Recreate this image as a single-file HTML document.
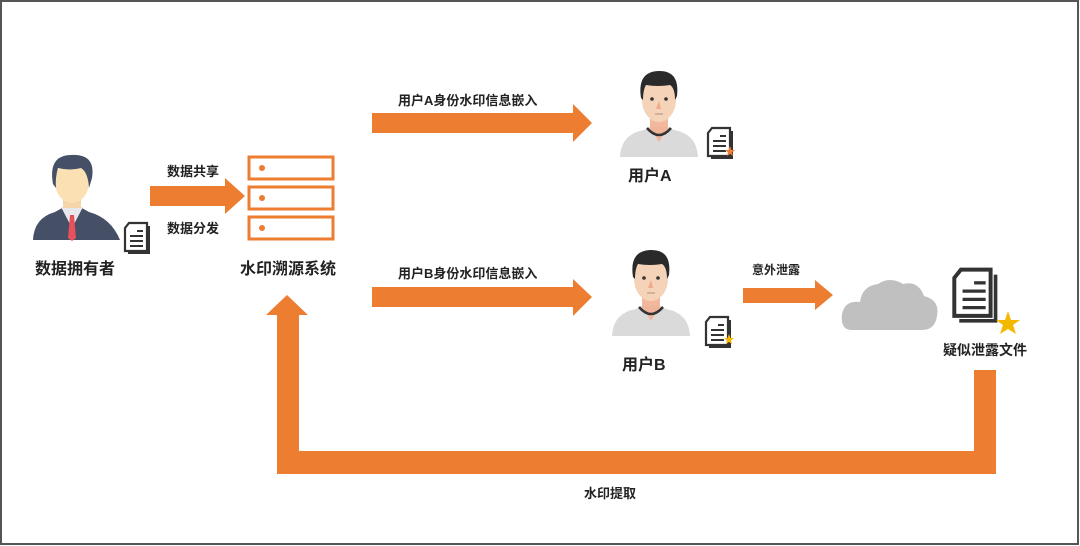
<!DOCTYPE html>
<html><head><meta charset="utf-8"><style>
html,body{margin:0;padding:0;background:#fff;}
svg{display:block}
text{font-family:"Liberation Sans","Noto Sans CJK SC",sans-serif;font-weight:bold;fill:#222;}
</style></head><body>
<svg width="1080" height="546" viewBox="0 0 1080 546" xmlns="http://www.w3.org/2000/svg">
<defs>
<g id="doc">
  <path d="M6 1 H24 V29 H2 V6 Z" fill="#fff" stroke="#333" stroke-width="2.2"/>
  <path d="M26 4 V31 H5" fill="none" stroke="#333" stroke-width="2"/>
  <line x1="14" y1="9" x2="20" y2="9" stroke="#333" stroke-width="2"/>
  <line x1="7" y1="14" x2="20" y2="14" stroke="#333" stroke-width="2"/>
  <line x1="7" y1="19" x2="20" y2="19" stroke="#333" stroke-width="2"/>
  <line x1="7" y1="24" x2="20" y2="24" stroke="#333" stroke-width="2"/>
</g>
<g id="user">
  <path d="M0 87 Q1 64 24 60 L30 57 H48 L54 60 Q77 64 78 87 Z" fill="#dadada"/>
  <rect x="30" y="40" width="18" height="20" fill="#f2b89c"/>
  <path d="M30 57 L39 72 L48 57 Z" fill="#f0b49a"/>
  <path d="M27 58 Q39 72 51 58" fill="none" stroke="#333" stroke-width="2.5"/>
  <ellipse cx="39" cy="30" rx="17" ry="22" fill="#f5d3b8"/>
  <path d="M21 28 Q17 2 38 1 Q60 0 57 26 L55 30 Q55 18 50 15 Q38 17 26 15 Q23 20 23 30 Z" fill="#2a2a2a"/>
  <circle cx="32" cy="29" r="1.8" fill="#333"/><circle cx="46" cy="29" r="1.8" fill="#333"/>
  <path d="M39 31 L36 39 H41 Z" fill="#f0a98a"/>
  <line x1="35" y1="44" x2="43" y2="44" stroke="#b58c78" stroke-width="1"/>
</g>
</defs>
<rect x="1" y="1" width="1077" height="543" fill="#fff" stroke="#555" stroke-width="2"/>

<!-- data owner -->
<path d="M33 240 Q34 218 55 212 L64 207 H80 L89 212 Q111 218 120 240 Z" fill="#454f66"/>
<path d="M61 207 L72 228 L83 207 Z" fill="#e8e8ec"/>
<path d="M70 215 H74 L76 238 L72 241 L68 238 Z" fill="#e8515c"/>
<rect x="63" y="194" width="18" height="14" fill="#f4d4a8"/>
<ellipse cx="72" cy="182" rx="17" ry="21" fill="#fbe0b4"/>
<path d="M53 184 Q48 156 70 155 Q96 153 92 178 L89 188 Q88 172 81 168 Q70 171 58 168 Q55 178 56 188 Z" fill="#454f66"/>
<use href="#doc" x="123" y="222"/>
<text x="35" y="274" font-size="16">数据拥有者</text>

<!-- share arrow -->
<polygon points="150,186 225,186 225,178 245,196 225,214 225,206 150,206" fill="#ed7d31"/>
<text x="167" y="176" font-size="13">数据共享</text>
<text x="167" y="233" font-size="13">数据分发</text>

<!-- server -->
<g fill="#fff" stroke="#ed7d31" stroke-width="3">
<rect x="249" y="157" width="84" height="22"/>
<rect x="249" y="187" width="84" height="22"/>
<rect x="249" y="217" width="84" height="22"/>
</g>
<g fill="#ed7d31"><circle cx="262" cy="168" r="3"/><circle cx="262" cy="198" r="3"/><circle cx="262" cy="228" r="3"/></g>
<text x="240" y="274" font-size="16">水印溯源系统</text>

<!-- arrow A -->
<polygon points="372,113 573,113 573,104 592,123 573,142 573,133 372,133" fill="#ed7d31"/>
<text x="398" y="105" font-size="13">用户A身份水印信息嵌入</text>
<!-- arrow B -->
<polygon points="372,287 573,287 573,279 592,297 573,316 573,307 372,307" fill="#ed7d31"/>
<text x="398" y="278" font-size="13">用户B身份水印信息嵌入</text>

<!-- user A -->
<use href="#user" x="620" y="70"/>
<use href="#doc" x="706" y="127"/>
<polygon points="730,146 731.5,150 735,150 732,152.5 733,156 730,154 727,156 728,152.5 725,150 728.5,150" fill="#ed7d31"/>
<text x="628" y="181" font-size="16">用户A</text>

<!-- user B -->
<use href="#user" x="612" y="249"/>
<use href="#doc" x="704" y="316"/>
<polygon points="729,334 730.5,338 734,338 731,340.5 732,344 729,342 726,344 727,340.5 724,338 727.5,338" fill="#f5b800"/>
<text x="622" y="370" font-size="16">用户B</text>

<!-- leak arrow -->
<polygon points="743,288 815,288 815,280 833,295 815,310 815,303 743,303" fill="#ed7d31"/>
<text x="752" y="274" font-size="12">意外泄露</text>

<!-- cloud -->
<path d="M852 330 Q840 330 842 314 Q845 300 860 302 Q862 286 878 284 Q890 276 903 284 Q918 280 924 296 Q940 300 937 316 Q935 330 922 330 Z" fill="#c0c0c0"/>

<!-- big doc -->
<g transform="translate(951,268) scale(1.65)">
  <path d="M6 1 H24 V29 H2 V6 Z" fill="#fff" stroke="#333" stroke-width="2.4"/>
  <path d="M27 4 V32 H5" fill="none" stroke="#333" stroke-width="2.2"/>
  <line x1="14" y1="9" x2="21" y2="9" stroke="#333" stroke-width="2"/>
  <line x1="7" y1="14" x2="21" y2="14" stroke="#333" stroke-width="2"/>
  <line x1="7" y1="19" x2="21" y2="19" stroke="#333" stroke-width="2"/>
  <line x1="7" y1="24" x2="21" y2="24" stroke="#333" stroke-width="2"/>
</g>
<polygon points="1008,311 1011,320 1020,320 1013,325 1016,334 1008,329 1000,334 1003,325 996,320 1005,320" fill="#f5b800"/>
<text x="943" y="355" font-size="14">疑似泄露文件</text>

<!-- return path -->
<polygon points="974,370 996,370 996,474 277,474 277,315 266,315 287,295 308,315 299,315 299,451 974,451" fill="#ed7d31"/>
<text x="584" y="498" font-size="13">水印提取</text>
</svg>
</body></html>
